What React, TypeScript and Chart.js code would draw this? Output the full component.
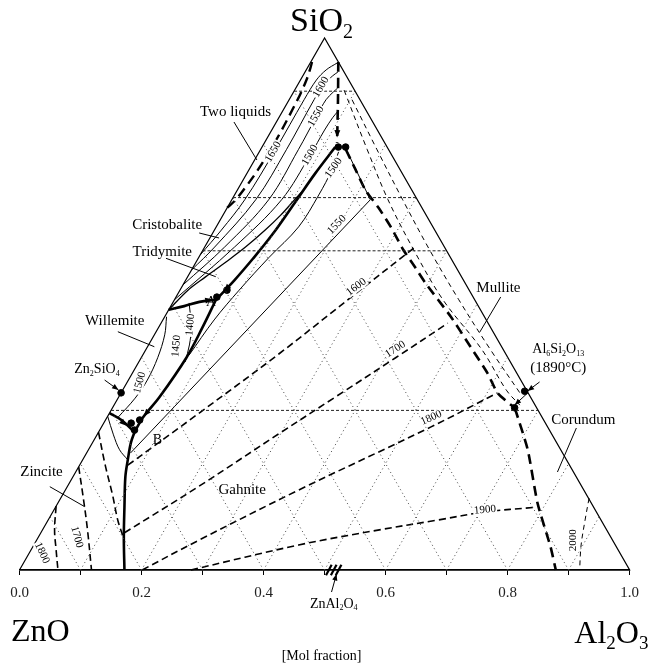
import { useEffect, useRef } from "react";
import { Chart, registerables } from "chart.js";
Chart.register(...registerables);

// Compositions are [Al2O3, SiO2] mole fractions (ZnO = 1 - Al2O3 - SiO2)
type P = [number, number];

const SERIF = '"Liberation Serif", "Times New Roman", serif';

const tickValues = [0, 0.1, 0.2, 0.3, 0.4, 0.5, 0.6, 0.7, 0.8, 0.9, 1.0];
const tickLabels = ["0.0", "", "0.2", "", "0.4", "", "0.6", "", "0.8", "", "1.0"];

const gridSteps = [0.1, 0.2, 0.3, 0.4, 0.5, 0.6, 0.7, 0.8, 0.9];
const tieLevels = [0.3, 0.6, 0.7, 0.9];

const triangle: P[] = [[0, 0], [1, 0], [0, 1], [0, 0]];

// field boundaries (thick solid)
const zinciteGahnite: P[] = [[0.172, 0], [0.140, 0.062], [0.113, 0.118], [0.086, 0.175], [0.074, 0.207], [0.063, 0.239], [0.059, 0.259]];
const willemiteGahnite: P[] = [[0.059, 0.259], [0.059, 0.286], [0.067, 0.325], [0.074, 0.399], [0.072, 0.455], [0.068, 0.508]];
const silicaWillemite: P[] = [[0, 0.489], [0.022, 0.496], [0.043, 0.504], [0.068, 0.508]];
const silicaGahnite: P[] = [[0.068, 0.508], [0.080, 0.545], [0.090, 0.585], [0.099, 0.630], [0.106, 0.690], [0.112, 0.746], [0.120, 0.795]];
const willemiteZincite: P[] = [[0, 0.295], [0.026, 0.282], [0.059, 0.259]];
// cristobalite / tridymite inversion line
const cristTrid: P[] = [[0, 0.489], [0.0131, 0.526], [0.0294, 0.551], [0.0489, 0.579], [0.0669, 0.607], [0.0832, 0.639], [0.0946, 0.667], [0.1028, 0.696], [0.1093, 0.718]];
// field boundaries (thick dashed)
const silicaMullite: P[] = [[0.045, 0.955], [0.080, 0.884], [0.119, 0.803]];
const mulliteGahnite: P[] = [[0.140, 0.790], [0.175, 0.752], [0.210, 0.714], [0.248, 0.681], [0.288, 0.643], [0.328, 0.602], [0.365, 0.568], [0.395, 0.540], [0.469, 0.476], [0.530, 0.419], [0.582, 0.370], [0.617, 0.333], [0.660, 0.304]];
const corundumGahnite: P[] = [[0.660, 0.304], [0.720, 0.226], [0.786, 0.126], [0.849, 0.043], [0.879, 0]];
const twoLiquidDome: P[] = [[0, 0.681], [0.0065, 0.696], [0.0114, 0.724], [0.0147, 0.752], [0.0163, 0.790], [0.0163, 0.827], [0.0147, 0.865], [0.0131, 0.893], [0.0098, 0.921], [0.0049, 0.944], [0, 0.962]];

// silica liquidus isotherms (thin solid)
const iso1650s: P[] = [[0, 0.592], [0.0114, 0.639], [0.0212, 0.696], [0.0245, 0.790], [0.0245, 0.884], [0.0261, 0.921], [0.0326, 0.940], [0.0440, 0.953]];
const iso1600s: P[] = [[0, 0.564], [0.0163, 0.607], [0.0392, 0.696], [0.0424, 0.790], [0.0408, 0.884], [0.0424, 0.912], [0.0489, 0.929], [0.0538, 0.936]];
const iso1550s: P[] = [[0, 0.536], [0.0326, 0.607], [0.0604, 0.696], [0.0620, 0.790], [0.0604, 0.853], [0.0604, 0.884], [0.0653, 0.899], [0.0685, 0.906]];
const iso1500s: P[] = [[0, 0.508], [0.0489, 0.607], [0.0816, 0.696], [0.0865, 0.780], [0.0865, 0.827], [0.0881, 0.850], [0.0905, 0.861]];

// gahnite field isotherms
const iso1500g: P[] = [[0.076, 0.404], [0.084, 0.470], [0.097, 0.526], [0.115, 0.587], [0.135, 0.645], [0.138, 0.705], [0.136, 0.752], [0.130, 0.786]];
const iso1550g: P[] = [[0.072, 0.220], [0.227, 0.696], [0.138, 0.793]];
const iso1600g: P[] = [[0.079, 0.197], [0.147, 0.295], [0.222, 0.406], [0.292, 0.521], [0.345, 0.607]];
const iso1700g: P[] = [[0.137, 0.070], [0.216, 0.158], [0.297, 0.256], [0.355, 0.325], [0.417, 0.399], [0.470, 0.464]];
const iso1800g: P[] = [[0.201, 0], [0.266, 0.056], [0.382, 0.150], [0.540, 0.269], [0.617, 0.333]];
const iso1900g: P[] = [[0.281, 0], [0.434, 0.047], [0.550, 0.075], [0.639, 0.094], [0.708, 0.109], [0.787, 0.118]];

// willemite field isotherms
const iso1450w: P[] = [[0.027, 0.502], [0.053, 0.457], [0.067, 0.423], [0.076, 0.391]];
const iso1500w: P[] = [[0.003, 0.476], [0.017, 0.442], [0.027, 0.399], [0.031, 0.357], [0.028, 0.323], [0.018, 0.287]];

// zincite field isotherms
const isoZincNearB: P[] = [[0, 0.289], [0.027, 0.254], [0.051, 0.226], [0.074, 0.207]];
const iso1600z: P[] = [[0, 0.259], [0.042, 0.197], [0.082, 0.141], [0.114, 0.094], [0.139, 0.062]];
const iso1700z: P[] = [[0, 0.194], [0.039, 0.132], [0.074, 0.075], [0.118, 0]];
const iso1800z: P[] = [[0, 0.120], [0.020, 0.075], [0.041, 0.038], [0.063, 0]];

// mullite and corundum field isotherms
const isoM1: P[] = [[0.081, 0.902], [0.175, 0.790], [0.256, 0.696], [0.345, 0.602], [0.440, 0.508], [0.551, 0.414], [0.629, 0.338], [0.665, 0.310]];
const isoM2: P[] = [[0.103, 0.884], [0.191, 0.790], [0.280, 0.696], [0.371, 0.602], [0.466, 0.508], [0.565, 0.414], [0.658, 0.329]];
const iso2000c: P[] = [[0.866, 0.135], [0.880, 0.094], [0.897, 0.047], [0.918, 0]];

// compounds and invariant points
const dots: P[] = [[0, 0.333], [0.045, 0.276], [0.056, 0.282], [0.057, 0.263], [0.067, 0.513], [0.077, 0.526], [0.125, 0.795], [0.137, 0.795], [0.659, 0.305], [0.660, 0.336]];
const spinelMarks: P[] = [[0.507, 0], [0.515, 0], [0.523, 0]];
// arrows on boundaries: [tail, tip] compositions
const boundaryArrows: [P, P][] = [
  [[0.100, 0.843], [0.114, 0.813]],
  [[0.064, 0.310], [0.059, 0.289]],
  [[0.018, 0.286], [0.040, 0.271]],
  [[0.081, 0.548], [0.073, 0.524]],
  [[0.050, 0.506], [0.062, 0.509]],
];

// annotation text, anchors in axis units (x along base, y = SiO2 height)
const labels = [
  { t: "SiO2", x: 0.495, y: 1.034, size: 34, f: true },
  { t: "ZnO", x: 0.034, y: -0.113, size: 32, f: true },
  { t: "Al2O3", x: 0.970, y: -0.117, size: 32, f: true },
  { t: "[Mol fraction]", x: 0.495, y: -0.162, size: 14 },
  { t: "ZnAl2O4", x: 0.515, y: -0.062, size: 14, f: true },
  { t: "Two liquids", x: 0.354, y: 0.861, size: 15 },
  { t: "Cristobalite", x: 0.242, y: 0.649, size: 15 },
  { t: "Tridymite", x: 0.234, y: 0.598, size: 15 },
  { t: "Willemite", x: 0.156, y: 0.467, size: 15 },
  { t: "Zn2SiO4", x: 0.127, y: 0.379, size: 14, f: true },
  { t: "Zincite", x: 0.036, y: 0.185, size: 15 },
  { t: "Gahnite", x: 0.365, y: 0.150, size: 15 },
  { t: "Mullite", x: 0.785, y: 0.530, size: 15 },
  { t: "Al6Si2O13", x: 0.883, y: 0.417, size: 14, f: true },
  { t: "(1890°C)", x: 0.883, y: 0.379, size: 15 },
  { t: "Corundum", x: 0.924, y: 0.282, size: 15 },
  { t: "A", x: 0.314, y: 0.504, size: 14 },
  { t: "B", x: 0.226, y: 0.244, size: 14 },
];
const isoLabels = [
  { t: "1650", x: 0.416, y: 0.786, rot: -60 },
  { t: "1600", x: 0.494, y: 0.908, rot: -60 },
  { t: "1550", x: 0.486, y: 0.853, rot: -60 },
  { t: "1500", x: 0.476, y: 0.780, rot: -60 },
  { t: "1500", x: 0.515, y: 0.756, rot: -55 },
  { t: "1550", x: 0.520, y: 0.649, rot: -46 },
  { t: "1600", x: 0.552, y: 0.532, rot: -37 },
  { t: "1700", x: 0.616, y: 0.415, rot: -33 },
  { t: "1800", x: 0.675, y: 0.286, rot: -25 },
  { t: "1900", x: 0.763, y: 0.113, rot: -5 },
  { t: "2000", x: 0.908, y: 0.056, rot: -90 },
  { t: "1400", x: 0.280, y: 0.461, rot: -85 },
  { t: "1450", x: 0.257, y: 0.421, rot: -85 },
  { t: "1500", x: 0.197, y: 0.352, rot: -75 },
  { t: "1700", x: 0.094, y: 0.062, rot: 75 },
  { t: "1800", x: 0.037, y: 0.032, rot: 65 },
];
const leaders = [
  { a: [0.3515, 0.8421], b: [0.3891, 0.7707], arrow: false },
  { a: [0.2945, 0.6335], b: [0.3271, 0.6241], arrow: false },
  { a: [0.2401, 0.5859], b: [0.3217, 0.5513], arrow: false },
  { a: [0.1612, 0.4479], b: [0.2210, 0.4197], arrow: false },
  { a: [0.1395, 0.3571], b: [0.1623, 0.3383], arrow: true },
  { a: [0.0497, 0.1566], b: [0.1069, 0.1190], arrow: false },
  { a: [0.7887, 0.5132], b: [0.7545, 0.4474], arrow: false },
  { a: [0.8524, 0.3534], b: [0.8328, 0.3365], arrow: true },
  { a: [0.8328, 0.3327], b: [0.8116, 0.3102], arrow: true },
  { a: [0.9127, 0.2669], b: [0.8817, 0.1842], arrow: false },
  { a: [0.5114, -0.0414], b: [0.5196, -0.0075], arrow: true },
];

const toXY = (p: P) => ({ x: p[0] + p[1] / 2, y: p[1] });

function line(pts: P[], width: number, dash: number[] = [], tension = 0.35, color = "#000") {
  return {
    type: "scatter" as const,
    data: pts.map(toXY),
    showLine: true,
    borderColor: color,
    backgroundColor: color,
    borderWidth: width,
    borderDash: dash,
    pointRadius: 0,
    tension,
    fill: false,
    clip: false as any,
  };
}

function drawFormula(ctx: CanvasRenderingContext2D, text: string, cx: number, cy: number, size: number) {
  const runs: { s: string; sub: boolean }[] = [];
  for (const ch of text) {
    const sub = /[0-9]/.test(ch);
    if (runs.length && runs[runs.length - 1].sub === sub) runs[runs.length - 1].s += ch;
    else runs.push({ s: ch, sub });
  }
  const big = `${size}px ${SERIF}`;
  const small = `${Math.round(size * 0.6)}px ${SERIF}`;
  let w = 0;
  for (const r of runs) {
    ctx.font = r.sub ? small : big;
    w += ctx.measureText(r.s).width;
  }
  let x = cx - w / 2;
  const base = cy + size * 0.33;
  ctx.textAlign = "left";
  ctx.textBaseline = "alphabetic";
  for (const r of runs) {
    ctx.font = r.sub ? small : big;
    ctx.fillText(r.s, x, r.sub ? base + size * 0.2 : base);
    x += ctx.measureText(r.s).width;
  }
}

function arrowHead(ctx: CanvasRenderingContext2D, x1: number, y1: number, x2: number, y2: number, s: number) {
  const ang = Math.atan2(y2 - y1, x2 - x1);
  ctx.beginPath();
  ctx.moveTo(x2, y2);
  ctx.lineTo(x2 - s * Math.cos(ang - 0.38), y2 - s * Math.sin(ang - 0.38));
  ctx.lineTo(x2 - s * Math.cos(ang + 0.38), y2 - s * Math.sin(ang + 0.38));
  ctx.closePath();
  ctx.fill();
}

const annotations = {
  id: "annotations",
  afterDatasetsDraw(chart: any) {
    const { ctx, scales } = chart;
    const px = (v: number) => scales.x.getPixelForValue(v);
    const py = (v: number) => scales.y.getPixelForValue(v);
    ctx.save();
    ctx.fillStyle = "#000";
    ctx.strokeStyle = "#000";
    for (const [t, h] of boundaryArrows) {
      const a = toXY(t), b = toXY(h);
      arrowHead(ctx, px(a.x), py(a.y), px(b.x), py(b.y), 8);
    }
    for (const l of leaders) {
      const x1 = px(l.a[0]), y1 = py(l.a[1]), x2 = px(l.b[0]), y2 = py(l.b[1]);
      ctx.lineWidth = 1;
      ctx.setLineDash([]);
      ctx.beginPath();
      ctx.moveTo(x1, y1);
      ctx.lineTo(x2, y2);
      ctx.stroke();
      if (l.arrow) arrowHead(ctx, x1, y1, x2, y2, 7);
    }
    for (const l of labels) {
      const x = px(l.x), y = py(l.y);
      if (l.f) drawFormula(ctx, l.t, x, y, l.size);
      else {
        ctx.font = `${l.size}px ${SERIF}`;
        ctx.textAlign = "center";
        ctx.textBaseline = "middle";
        ctx.fillText(l.t, x, y);
      }
    }
    for (const l of isoLabels) {
      ctx.save();
      ctx.translate(px(l.x), py(l.y));
      ctx.rotate((l.rot * Math.PI) / 180);
      ctx.font = `11px ${SERIF}`;
      const w = ctx.measureText(l.t).width;
      ctx.fillStyle = "#fff";
      ctx.fillRect(-w / 2 - 1, -5, w + 2, 10);
      ctx.fillStyle = "#000";
      ctx.textAlign = "center";
      ctx.textBaseline = "middle";
      ctx.fillText(l.t, 0, 0);
      ctx.restore();
    }
    ctx.restore();
  },
};

export default function App() {
  const ref = useRef<HTMLCanvasElement | null>(null);
  useEffect(() => {
    if (!ref.current) return;
    const datasets: any[] = [];
    for (const k of gridSteps) {
      datasets.push(line([[k, 0], [k, 1 - k]], 1, [1, 3], 0, "#444"));
      datasets.push(line([[1 - k, 0], [0, 1 - k]], 1, [1, 3], 0, "#444"));
    }
    for (const s of tieLevels) datasets.push(line([[0, s], [1 - s, s]], 1, [3, 2], 0, "#222"));
    datasets.push(line(triangle, 1.2, [], 0));
    for (const c of [iso1650s, iso1600s, iso1550s, iso1500s, iso1500g, iso1450w, iso1500w, isoZincNearB]) datasets.push(line(c, 1));
    datasets.push(line(cristTrid, 1.3));
    datasets.push(line(iso1550g, 1, [], 0));
    for (const c of [iso1600g, iso1700g, iso1800g, iso1900g, iso1600z, iso1700z, iso1800z]) datasets.push(line(c, 1.6, [7, 4]));
    for (const c of [isoM1, isoM2, iso2000c]) datasets.push(line(c, 1, [5, 4]));
    for (const c of [zinciteGahnite, willemiteGahnite, silicaWillemite, silicaGahnite, willemiteZincite]) datasets.push(line(c, 2.6));
    for (const c of [silicaMullite, mulliteGahnite, corundumGahnite]) datasets.push(line(c, 2.6, [10, 6], 0.2));
    datasets.push(line(twoLiquidDome, 2.4, [10, 6]));
    datasets.push({
      type: "scatter", data: dots.map(toXY), showLine: false, pointRadius: 3.3,
      backgroundColor: "#000", borderColor: "#000", clip: false,
    });
    datasets.push({
      type: "scatter", data: spinelMarks.map(toXY), showLine: false, pointStyle: "line",
      rotation: -62, pointRadius: 6, borderWidth: 2.2, borderColor: "#000", clip: false,
    });

    const chart = new Chart(ref.current, {
      type: "scatter",
      data: { datasets },
      options: {
        animation: false,
        responsive: false,
        devicePixelRatio: 1,
        events: [],
        layout: { padding: { left: 19.5, right: 15.5, top: 38, bottom: 68 } },
        plugins: { legend: { display: false }, tooltip: { enabled: false } },
        scales: {
          x: {
            type: "linear",
            min: 0,
            max: 1,
            afterFit: (s: any) => { s.height = 30; },
            afterBuildTicks: (s: any) => { s.ticks = tickValues.map((v) => ({ value: v })); },
            grid: { drawOnChartArea: false, drawTicks: true, tickLength: 5, color: "#000", lineWidth: 1 },
            border: { display: true, color: "#000", width: 1.5 },
            ticks: {
              autoSkip: false, maxRotation: 0, padding: 9, color: "#222",
              font: { family: SERIF, size: 15 },
              callback: (_v: any, i: number) => tickLabels[i],
            },
          },
          y: { type: "linear", min: 0, max: 1, display: false },
        },
      } as any,
      plugins: [annotations],
    });
    return () => chart.destroy();
  }, []);
  return (
    <div style={{ position: "fixed", left: 0, top: 0, width: 648, height: 668, background: "#fff" }}>
      <canvas ref={ref} width={648} height={668} style={{ width: 648, height: 668, display: "block" }} />
    </div>
  );
}
